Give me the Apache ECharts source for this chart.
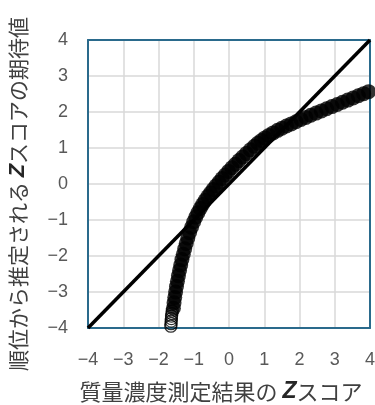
<!DOCTYPE html>
<html>
<head>
<meta charset="utf-8">
<script src="https://cdn.jsdelivr.net/npm/echarts@6/dist/echarts.min.js"></script>
<style>
  html, body { margin: 0; padding: 0; background: #ffffff; }
  #chart { width: 375px; height: 405px; }
</style>
</head>
<body>
<div id="chart"></div>
<script>
// Axis ticks shared by both axes
const tickValues = [-4, -3, -2, -1, 0, 1, 2, 3, 4];

// Z-score of each measured mass concentration (x) and the
// normal score expected from its rank (y)
const measuredZ = [
  -1.578, -1.559, -1.539, -1.515, -1.490, -1.463, -1.434, -1.403, -1.370, -1.335,
  -1.297, -1.257, -1.214, -1.168, -1.118, -1.063, -1.002, -0.942, -0.882, -0.816,
  -0.750, -0.678, -0.601, -0.527, -0.449, -0.368, -0.284, -0.197, -0.107, -0.014,
  0.082, 0.181, 0.283, 0.388, 0.496, 0.607, 0.720, 0.815, 0.920, 1.020,
  1.130, 1.250, 1.380, 1.500, 1.630, 1.765, 1.900, 2.040, 2.180, 2.320,
  2.470, 2.620, 2.770, 2.920, 3.070, 3.220, 3.370, 3.520, 3.670, 3.820, 3.960
];
const expectedZ = [
  -3.45, -3.30, -3.15, -3.00, -2.85, -2.70, -2.55, -2.40, -2.25, -2.10,
  -1.95, -1.80, -1.65, -1.50, -1.35, -1.20, -1.05, -0.92, -0.80, -0.68,
  -0.57, -0.46, -0.35, -0.25, -0.15, -0.05, 0.05, 0.15, 0.25, 0.35,
  0.45, 0.55, 0.65, 0.75, 0.85, 0.95, 1.05, 1.13, 1.21, 1.28,
  1.35, 1.42, 1.49, 1.55, 1.61, 1.67, 1.73, 1.79, 1.85, 1.91,
  1.97, 2.03, 2.09, 2.15, 2.21, 2.27, 2.33, 2.39, 2.45, 2.51, 2.565
];

// Sparse lower tail where the single rings stay visible
const tailMeasuredZ = [-1.65, -1.645, -1.64, -1.635, -1.63, -1.62, -1.61];
const tailExpectedZ = [-3.95, -3.88, -3.81, -3.74, -3.67, -3.60, -3.53];

// Reference line y = x
const refX = [-4, 4];
const refY = [-4, 4];

const pairs = (xs, ys) => xs.map((x, i) => [x, ys[i]]);

const frameColor = '#2a6a8c';
const tickFont = 'Liberation Sans, Arial, sans-serif';
const jpFont = 'Noto Sans CJK JP, sans-serif';

const axisMin = tickValues[0];
const axisMax = tickValues[tickValues.length - 1];
const axisStep = tickValues[1] - tickValues[0];

// tick labels use a typographic minus sign
const tickText = (v) => (v < 0 ? '\u2212' + Math.abs(v) : String(v));

function mainAxis(pos) {
  return {
    type: 'value',
    position: pos,
    min: axisMin,
    max: axisMax,
    interval: axisStep,
    axisLine: { show: true, onZero: false, lineStyle: { color: frameColor, width: 2 } },
    axisTick: { show: false },
    axisLabel: {
      color: '#595959',
      fontSize: 18,
      fontFamily: tickFont,
      margin: pos === 'left' ? 20 : 23,
      formatter: tickText
    },
    splitLine: { show: true, lineStyle: { color: '#d9d9d9', width: 1.5 } },
    z: 3
  };
}
function frameAxis(pos) {
  return {
    type: 'value',
    position: pos,
    min: axisMin,
    max: axisMax,
    interval: axisStep,
    axisLine: { show: true, onZero: false, lineStyle: { color: frameColor, width: 2 } },
    axisTick: { show: false },
    axisLabel: { show: false },
    splitLine: { show: false },
    z: 3
  };
}

const titleRich = (size) => ({
  a: { fontSize: size, fontFamily: jpFont, fill: '#404040' },
  z: { fontSize: size + 1, fontWeight: 'bold', fontStyle: 'italic', fontFamily: tickFont, fill: '#262626' }
});

const chart = echarts.init(document.getElementById('chart'), null, { renderer: 'canvas' });

chart.setOption({
  animation: false,
  backgroundColor: '#ffffff',
  grid: { left: 88, right: 5, top: 40, bottom: 77, containLabel: false, outerBoundsMode: 'none' },
  xAxis: [mainAxis('bottom'), frameAxis('top')],
  yAxis: [mainAxis('left'), frameAxis('right')],
  series: [
    {
      type: 'line',
      data: pairs(refX, refY),
      symbol: 'none',
      lineStyle: { color: '#000000', width: 3.5 },
      z: 4
    },
    {
      type: 'scatter',
      data: pairs(measuredZ, expectedZ),
      symbol: 'circle',
      symbolSize: 15,
      itemStyle: { color: '#000000' },
      clip: false,
      z: 5
    },
    {
      type: 'scatter',
      data: pairs(tailMeasuredZ, tailExpectedZ),
      symbol: 'circle',
      symbolSize: 12,
      itemStyle: { color: 'rgba(0,0,0,0)', borderColor: '#000000', borderWidth: 1.3 },
      clip: false,
      z: 5
    }
  ],
  graphic: [
    {
      type: 'text',
      x: 221,
      y: 392,
      style: {
        text: '{a|質量濃度測定結果の }{z|Z}{a|スコア}',
        align: 'center',
        verticalAlign: 'middle',
        rich: titleRich(22)
      }
    },
    {
      type: 'text',
      x: 18,
      y: 194,
      rotation: Math.PI / 2,
      style: {
        text: '{a|順位から推定される }{z|Z}{a|スコアの期待値}',
        align: 'center',
        verticalAlign: 'middle',
        rich: titleRich(21)
      }
    }
  ]
});
</script>
</body>
</html>
